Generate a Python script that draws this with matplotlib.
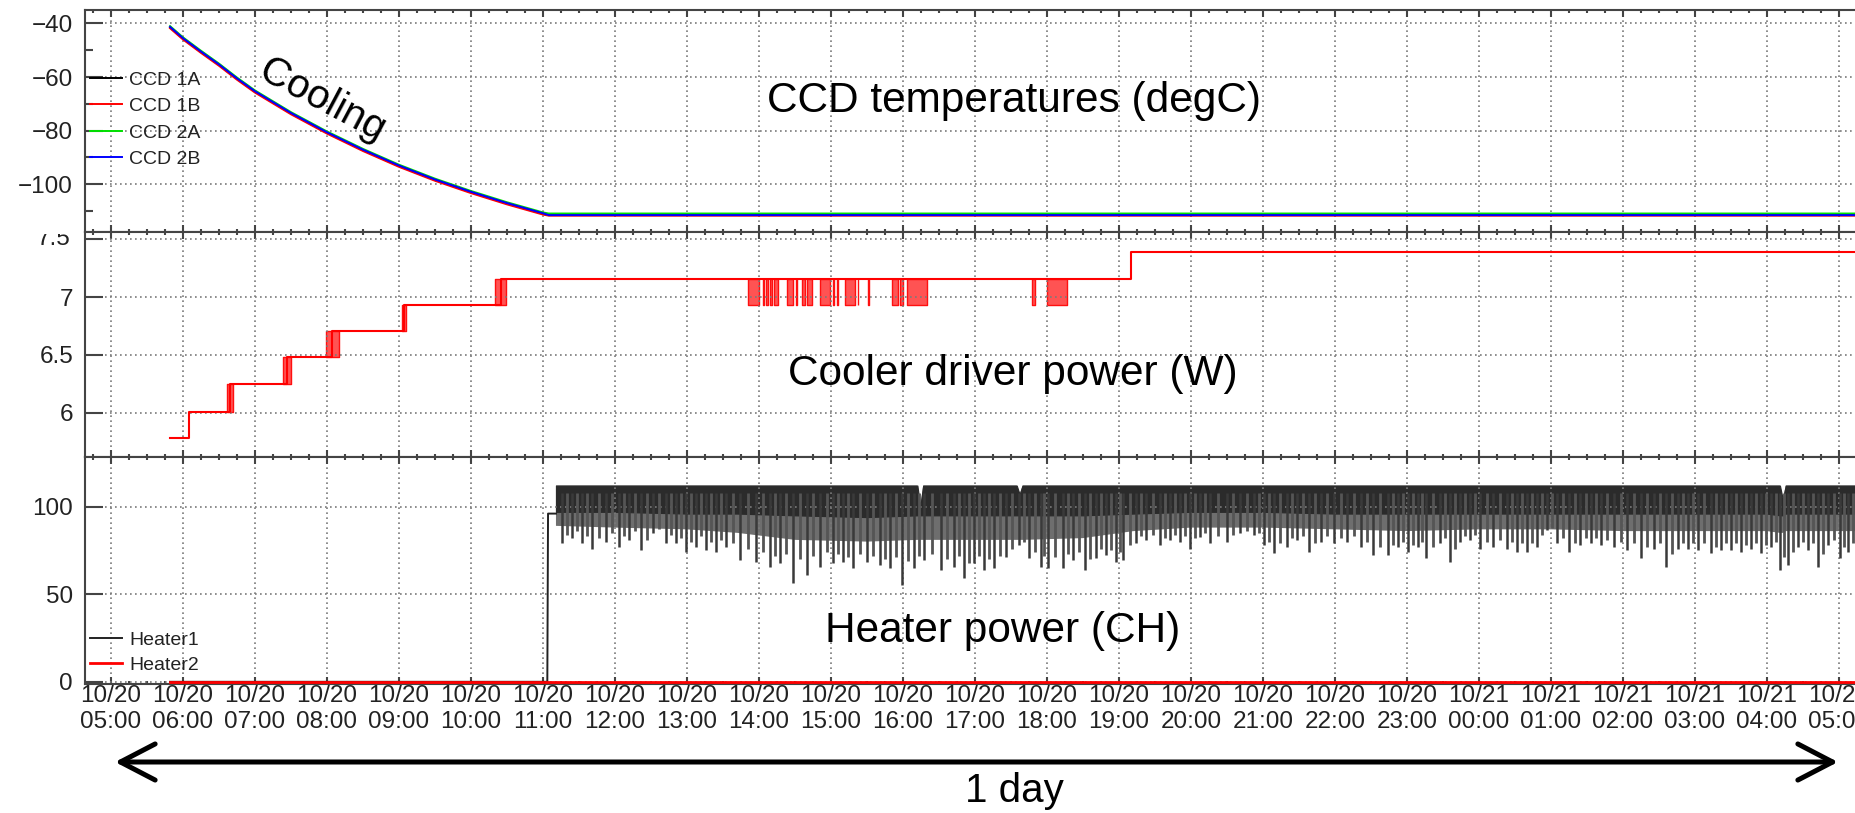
import matplotlib
matplotlib.use("Agg")
import matplotlib.pyplot as plt
from matplotlib.patches import FancyArrowPatch
from matplotlib.transforms import Bbox, TransformedBbox
from matplotlib.ticker import FixedLocator, MultipleLocator

plt.rcParams['font.family'] = ['Liberation Sans', 'DejaVu Sans']

# ---------------- data (x = hours since 10/20 00:00) ----------------
tick_hours = list(range(5, 30))
tick_labels = [f"10/{20 + h // 24}\n{h % 24:02d}:00" for h in tick_hours]

# CCD temperatures (degC)
cool_t = [5.82, 6.0, 6.25, 6.5, 6.75, 7.0, 7.5, 8.0, 8.5, 9.0, 9.5, 10.0, 10.5, 11.0, 11.08, 29.6]
ccd_1a = [-41.5, -45.7, -50.7, -55.5, -60.7, -65.5, -73.6, -80.8, -87.3, -93.2, -98.4, -103.0, -107.2, -111.0, -111.5, -111.5]
ccd_1b = [-41.8, -46.0, -51.0, -55.8, -61.0, -65.8, -73.9, -81.1, -87.6, -93.5, -98.7, -103.3, -107.5, -111.3, -111.7, -111.7]
ccd_2a = [-41.0, -45.2, -50.2, -55.0, -60.2, -65.0, -73.1, -80.3, -86.8, -92.7, -97.9, -102.5, -106.7, -110.5, -110.9, -110.9]
ccd_2b = [-41.3, -45.5, -50.5, -55.3, -60.5, -65.3, -73.4, -80.6, -87.1, -93.0, -98.2, -102.8, -107.0, -110.8, -111.5, -111.5]
ccd_names = ["CCD 1A", "CCD 1B", "CCD 2A", "CCD 2B"]

# Cooler driver power (W): step levels
cooler_t = [5.816, 6.09, 6.65, 7.45, 8.07, 9.07, 10.42, 19.17, 29.6]
cooler_v = [5.78, 6.01, 6.25, 6.48, 6.71, 6.93, 7.16, 7.39, 7.39]
# intervals of rapid toggling between two levels: (start, end, low, high)
toggle_bands = [
    (6.61, 6.69, 6.01, 6.25), (7.39, 7.50, 6.25, 6.48), (7.98, 8.16, 6.48, 6.71),
    (9.04, 9.10, 6.71, 6.93), (10.33, 10.49, 6.93, 7.16),
    (13.852, 14.00, 6.93, 7.16), (14.055, 14.065, 6.93, 7.16), (14.093, 14.13, 6.93, 7.16),
    (14.153, 14.176, 6.93, 7.16), (14.208, 14.269, 6.93, 7.16), (14.384, 14.477, 6.93, 7.16),
    (14.52, 14.53, 6.93, 7.16), (14.593, 14.639, 6.93, 7.16), (14.662, 14.741, 6.93, 7.16),
    (14.847, 14.986, 6.93, 7.16), (15.028, 15.036, 6.93, 7.16), (15.079, 15.102, 6.93, 7.16),
    (15.194, 15.333, 6.93, 7.16), (15.37, 15.38, 6.93, 7.16), (15.515, 15.523, 6.93, 7.16),
    (15.843, 15.935, 6.93, 7.16), (15.958, 16.005, 6.93, 7.16), (16.051, 16.329, 6.93, 7.16),
    (17.787, 17.833, 6.93, 7.16), (17.995, 18.273, 6.93, 7.16),
]

# Heater power (CH)
heater1_t = [5.82, 11.06, 11.07, 11.18]
heater1_v = [0, 0, 96, 96]
heater2_t = [5.82, 29.6]
heater2_v = [0, 0]
# dense core of the oscillating heater-1 signal
band_t = [11.18, 12.0, 13.0, 13.7, 14.5, 15.5, 16.2, 16.24, 16.28, 16.5, 17.5, 17.58, 17.62,
          17.66, 18.5, 19.2, 20.0, 21.0, 22.0, 23.0, 24.0, 25.0, 26.0, 27.0, 28.0, 28.18,
          28.22, 28.26, 29.0, 29.6]
band_top = [112, 112, 112, 112, 112, 112, 112, 100, 112, 112, 112, 112, 107,
            112, 112, 112, 112, 112, 112, 112, 112, 112, 112, 112, 112, 112,
            104, 112, 112, 112]
band_low = [97, 97, 96, 96, 95, 94, 95, 95, 95, 95, 95, 95, 95,
            95, 95, 96, 97, 97, 96, 96, 96, 96, 96, 96, 96, 95,
            95, 96, 96, 96]
# lower edge of the grey, densely-oscillating zone
grey_low = [89, 88, 87, 85, 81, 80, 81, 81, 81, 81, 81, 81, 81,
            81, 82, 86, 88, 88, 87, 86, 87, 87, 86, 86, 86, 85,
            85, 86, 86, 86]
# deepest excursions (spike minima)
spike_t = [11.265, 11.405, 11.544, 11.684, 11.87, 12.056, 12.195, 12.358, 12.521, 12.707,
           12.847, 12.986, 13.126, 13.265, 13.405, 13.544, 13.73, 13.963, 14.149, 14.288,
           14.474, 14.66, 14.847, 15.033, 15.172, 15.312, 15.498, 15.684, 15.823, 15.986,
           16.149, 16.288, 16.521, 16.707, 16.847, 16.986,
           17.126, 17.265, 17.428, 17.614, 17.753, 17.916, 18.009, 18.219, 18.358, 18.521,
           18.684, 18.823, 18.963, 19.056, 19.242, 19.381, 19.567, 19.707, 19.847, 19.986,
           20.126, 20.265, 20.498, 20.684, 20.87, 21.009, 21.149, 21.335, 21.474, 21.637,
           21.8, 21.986, 22.172, 22.358, 22.521, 22.73, 22.87, 23.009, 23.149,
           23.27, 23.456, 23.595, 23.735, 23.874, 24.014, 24.2, 24.386, 24.526, 24.665,
           24.805, 24.944, 25.084, 25.247, 25.409, 25.549, 25.688, 25.874, 26.06, 26.247,
           26.433, 26.595, 26.758, 26.898, 27.037, 27.223, 27.363, 27.502, 27.642, 27.781,
           27.921, 28.06, 28.177, 28.293, 28.433, 28.572, 28.712, 28.851, 29.014, 29.13, 29.247]
spike_low = [79, 82, 79, 76, 80, 77, 81, 75, 85, 79,
             79, 74, 77, 75, 74, 77, 69.6, 68.6, 65.8, 67.7,
             56.3, 61, 65.8, 67.7, 68.6, 64.8, 68.6, 66.7, 64.8, 55.3,
             64.8, 69.6, 63.9, 65.8, 59.1, 67.7,
             63.9, 64.8, 71.5, 78.1, 70.5, 65.8, 64.8, 64.8, 69.6, 63.9,
             70.5, 72.4, 68.6, 69.6, 79, 81, 78.1, 81, 80, 76,
             82.9, 79, 80, 84.8, 83.8, 78.1, 73.4, 77.2, 81, 74.3,
             80, 79, 80, 77.2, 72.4, 72.4, 77.2, 74.3, 77.2,
             70.5, 79, 68.6, 80, 81, 76, 77.2, 76, 74.3, 74.3,
             77.2, 86.7, 79, 74.3, 78.1, 79, 78.1, 77.2, 75.3, 70.5,
             76, 65.8, 76, 76, 75.3, 73.4, 75.3, 75.3, 74.3, 76,
             73.4, 77.2, 63.9, 66.7, 77.2, 75.3, 65.8, 78.1, 70.5, 74.3, 77.2]
# shallower excursions between the deep ones
mid_t = [11.33, 11.47, 11.61, 11.78, 11.96, 12.13, 12.28, 12.44, 12.61, 12.78, 12.92, 13.06,
         13.2, 13.34, 13.47, 13.64, 13.85, 14.06, 14.22, 14.38, 14.57, 14.75, 14.94, 15.1,
         15.24, 15.4, 15.59, 15.75, 15.9, 16.07, 16.22, 16.4, 16.61, 16.78, 16.92, 17.06,
         17.2, 17.35, 17.52, 17.68, 17.83, 17.96, 18.11, 18.29, 18.44, 18.6, 18.75, 18.89,
         19.01, 19.15, 19.31, 19.47, 19.64, 19.78, 19.92, 20.06, 20.2, 20.38, 20.59, 20.78,
         20.94, 21.08, 21.24, 21.4, 21.56, 21.72, 21.89, 22.08, 22.27, 22.44, 22.63, 22.8,
         22.94, 23.08, 23.21, 23.36, 23.53, 23.67, 23.8, 23.94, 24.11, 24.29, 24.46, 24.6,
         24.74, 24.87, 25.01, 25.17, 25.33, 25.48, 25.62, 25.78, 25.97, 26.15, 26.34, 26.51,
         26.68, 26.83, 26.97, 27.13, 27.29, 27.43, 27.57, 27.71, 27.85, 27.99, 28.12, 28.24,
         28.36, 28.5, 28.64, 28.78, 28.93, 29.07, 29.19, 29.35, 29.5]
mid_low = [84, 86, 83, 82, 85, 83, 86, 81, 87, 84, 82, 80,
           83, 80, 81, 79, 76, 74, 72, 73, 70, 72, 74, 73,
           71, 73, 72, 70, 71, 69, 72, 73, 70, 72, 68, 72,
           70, 72, 76, 80, 74, 72, 71, 73, 74, 70, 76, 75,
           74, 78, 83, 84, 82, 84, 83, 82, 85, 83, 84, 86,
           85, 80, 79, 82, 83, 79, 83, 82, 83, 80, 77, 78,
           80, 78, 80, 77, 82, 76, 83, 84, 80, 81, 80, 79,
           79, 84, 88, 82, 79, 82, 82, 81, 80, 79, 77, 79,
           73, 79, 79, 79, 77, 79, 79, 78, 79, 78, 80, 71,
           74, 80, 79, 73, 81, 77, 79, 80, 80]

# ---------------- figure / layout ----------------
W, H, DPI = 1856, 813, 100
fig = plt.figure(figsize=(W / DPI, H / DPI), dpi=DPI)


def fx(px):
    return px / W


def fy(py):
    return 1 - py / H


AX_L, AX_R = 85, 1880
XLIM = (5 + (AX_L - 111) / 72.0, 5 + (AX_R - 111) / 72.0)
SP = '#444444'
TXT = '#222222'

ax_t = fig.add_axes([fx(AX_L), fy(232), fx(AX_R) - fx(AX_L), (232 - 10) / H])
ax_m = fig.add_axes([fx(AX_L), fy(457), fx(AX_R) - fx(AX_L), (457 - 232) / H])
ax_b = fig.add_axes([fx(AX_L), fy(684), fx(AX_R) - fx(AX_L), (684 - 457) / H])

for ax in (ax_t, ax_m, ax_b):
    ax.set_xlim(*XLIM)
    ax.xaxis.set_major_locator(FixedLocator(tick_hours))
    ax.xaxis.set_minor_locator(MultipleLocator(0.25))
    ax.tick_params(axis='x', which='both', direction='in', top=True, bottom=True,
                   color=SP, width=1.5)
    ax.tick_params(axis='x', which='major', length=5)
    ax.tick_params(axis='x', which='minor', length=2.5)
    ax.tick_params(axis='y', which='both', direction='in', left=True, right=False,
                   color=SP, width=1.5, labelsize=17.5, labelcolor=TXT, pad=8.6)
    ax.tick_params(axis='y', which='major', length=13)
    ax.tick_params(axis='y', which='minor', length=6)
    ax.grid(True, which='major', color='#7a7a7a', linestyle=(0, (1, 2)), linewidth=1.2)
    for s in ax.spines.values():
        s.set_color(SP)
        s.set_linewidth(1.5)
    ax.spines['right'].set_visible(False)

ax_t.tick_params(axis='x', labelbottom=False)
ax_m.tick_params(axis='x', labelbottom=False)
ax_b.set_xticklabels(tick_labels)
ax_b.tick_params(axis='x', which='major', labelsize=17.5, labelcolor=TXT, pad=1)

# ---- top panel: CCD temperatures
ax_t.set_ylim(-117.8, -35.0)
ax_t.set_yticks([-40, -60, -80, -100])
ax_t.set_yticks([-50, -70, -90, -110], minor=True)
handles = []
for series, col, name in zip((ccd_1a, ccd_1b, ccd_2a, ccd_2b),
                             ('#000000', '#ff0000', '#00e000', '#0000ff'), ccd_names):
    ln, = ax_t.plot(cool_t, series, color=col, lw=1.4, label=name)
    handles.append(ln)
ax_t.legend(handles=handles, loc='upper left', bbox_to_anchor=(fx(90), fy(71)),
            bbox_transform=fig.transFigure, frameon=False, fontsize=14,
            handlelength=1.65, handletextpad=0.36, labelspacing=0.46,
            borderpad=0, borderaxespad=0, labelcolor=TXT)

# ---- middle panel: cooler driver power
ax_m.set_ylim(5.617, 7.562)
ax_m.set_yticks([6, 6.5, 7, 7.5])
ax_m.set_yticklabels(['6', '6.5', '7', ''])
ax_m.step(cooler_t, cooler_v, where='post', color='#ff0000', lw=1.5)
for s0, s1, lo, hi in toggle_bands:
    ax_m.fill_between([s0, s1], [lo, lo], [hi, hi], facecolor=(1, 0.1, 0.1, 0.75),
                      edgecolor='#ff1010', linewidth=1.0)
lbl75 = ax_m.text(-0.0082, 7.5, '7.5', transform=ax_m.get_yaxis_transform(),
                  ha='right', va='center', fontsize=17.5, color=TXT, clip_on=True)
lbl75.set_clip_box(TransformedBbox(Bbox.from_extents(0, 0, 1, fy(234)), fig.transFigure))

# ---- bottom panel: heater power
ax_b.set_ylim(-1.26, 128.3)
ax_b.set_yticks([0, 50, 100])
ax_b.plot(heater1_t, heater1_v, color='#222222', lw=1.4, label='Heater1')
ax_b.fill_between(band_t, grey_low, band_top, facecolor='#6e6e6e', edgecolor='none')
ax_b.vlines(mid_t, mid_low, [108] * len(mid_t), color='#555555', lw=2.0)
ax_b.vlines(spike_t, spike_low, [108] * len(spike_t), color='#3a3a3a', lw=1.8)
ax_b.fill_between(band_t, band_low, band_top, facecolor='#2b2b2b', edgecolor='#2b2b2b', lw=0.8)
ln2, = ax_b.plot(heater2_t, heater2_v, color='#ff0000', lw=2.0, label='Heater2', zorder=5)
h1, = ax_b.plot([], [], color='#222222', lw=1.4)
ax_b.legend(handles=[h1, ln2], labels=['Heater1', 'Heater2'], loc='upper left',
            bbox_to_anchor=(fx(90), fy(631)), bbox_transform=fig.transFigure,
            frameon=False, fontsize=14, handlelength=1.65, handletextpad=0.36,
            labelspacing=0.4, borderpad=0, borderaxespad=0, labelcolor=TXT)

# ---- annotations
fig.text(fx(1014), fy(101), 'CCD temperatures (degC)', ha='center', va='center', fontsize=30.5)
fig.text(fx(1013), fy(374), 'Cooler driver power (W)', ha='center', va='center', fontsize=30.5)
fig.text(fx(1003), fy(631), 'Heater power (CH)', ha='center', va='center', fontsize=30.5)
fig.text(fx(322), fy(100), 'Cooling', ha='center', va='center', fontsize=29,
         rotation=-28, rotation_mode='anchor')
fig.text(fx(1014), fy(791), '1 day', ha='center', va='center', fontsize=29)

arrow = FancyArrowPatch((fx(115), fy(762)), (fx(1838), fy(762)), transform=fig.transFigure,
                        arrowstyle='<->,head_length=25,head_width=13', mutation_scale=1,
                        color='black', linewidth=3.6, shrinkA=0, shrinkB=0)
fig.add_artist(arrow)

fig.savefig('out.png', dpi=DPI)
